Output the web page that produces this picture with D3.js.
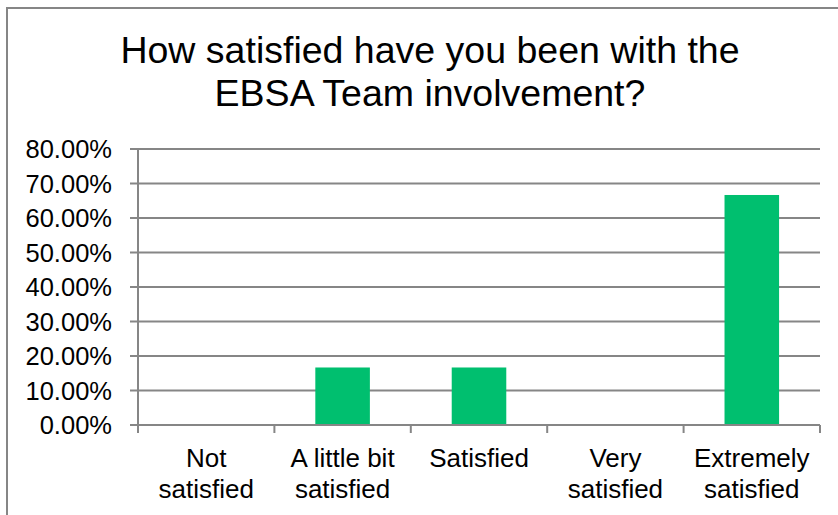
<!DOCTYPE html>
<html><head><meta charset="utf-8">
<script src="https://cdn.jsdelivr.net/npm/d3@7/dist/d3.min.js"></script>
<style>body{margin:0;background:#fff}svg{display:block}</style>
</head><body>
<svg id="c" width="838" height="515"></svg>
<script>
const categories = [["Not","satisfied"],["A little bit","satisfied"],["Satisfied"],["Very","satisfied"],["Extremely","satisfied"]];
const values = [0, 0.1667, 0.1667, 0, 0.6667];
const yTicks = [0,0.1,0.2,0.3,0.4,0.5,0.6,0.7,0.8];
const titleLines = ["How satisfied have you been with the","EBSA Team involvement?"];

(function(){
const svg = d3.select("#c");
const font = "'Liberation Sans', Arial, sans-serif";
const grey = "#868686";
svg.append("rect").attr("x",7).attr("y",8).attr("width",900).attr("height",600)
  .attr("fill","#fff").attr("stroke",grey).attr("stroke-width",2);

const pLeft = 138, pRight = 820, pTop = 149, pBottom = 425;
const x = d3.scaleBand().domain(d3.range(categories.length)).range([pLeft,pRight]).paddingInner(0.6).paddingOuter(0.3);
const xb = d3.scaleBand().domain(d3.range(categories.length)).range([pLeft,pRight]);
const y = d3.scaleLinear().domain([0,0.8]).range([pBottom,pTop]);

// title
svg.append("text").attr("font-family",font).attr("font-size",37.5).attr("fill","#000")
  .attr("text-anchor","middle")
  .selectAll("tspan").data(titleLines).join("tspan")
  .attr("x",430).attr("y",(d,i)=>63+i*43).text(d=>d);

// gridlines
svg.append("g").selectAll("line").data(yTicks).join("line")
  .attr("x1",pLeft-8).attr("x2",pRight).attr("y1",d=>y(d)).attr("y2",d=>y(d))
  .attr("stroke",grey).attr("stroke-width",2);

// y axis labels
const yAxis = d3.axisLeft(y).tickValues(yTicks).tickFormat(d=>(d*100).toFixed(2)+"%").tickSize(0).tickPadding(0);
const gy = svg.append("g").attr("transform",`translate(112,0)`).call(yAxis);
gy.select(".domain").remove();
gy.selectAll("text").attr("font-family",font).attr("font-size",25.5).attr("fill","#000").attr("dy","0.35em");

// bars
svg.append("g").selectAll("rect").data(values).join("rect")
  .attr("x",(d,i)=>x(i)).attr("width",x.bandwidth())
  .attr("y",d=>y(d)).attr("height",d=>pBottom-y(d))
  .attr("fill","#00BF6F");

// axes lines
svg.append("line").attr("x1",pLeft).attr("x2",pLeft).attr("y1",pTop).attr("y2",pBottom+8).attr("stroke",grey).attr("stroke-width",2);
svg.append("line").attr("x1",pLeft).attr("x2",pRight).attr("y1",pBottom).attr("y2",pBottom).attr("stroke",grey).attr("stroke-width",2);
const tickXs = d3.range(categories.length+1).map(i=> i<categories.length ? xb(i) : pRight);
svg.append("g").selectAll("line").data(tickXs).join("line")
  .attr("x1",d=>d).attr("x2",d=>d).attr("y1",pBottom).attr("y2",pBottom+8)
  .attr("stroke",grey).attr("stroke-width",2);

// category labels
const cl = svg.append("g").selectAll("text").data(categories).join("text")
  .attr("font-family",font).attr("font-size",26).attr("fill","#000").attr("text-anchor","middle");
cl.selectAll("tspan").data((d,i)=>d.map(t=>({t,i}))).join("tspan")
  .attr("x",d=>xb(d.i)+xb.bandwidth()/2).attr("y",(d,j)=>467+j*31).text(d=>d.t);
})();
</script>
</body></html>
